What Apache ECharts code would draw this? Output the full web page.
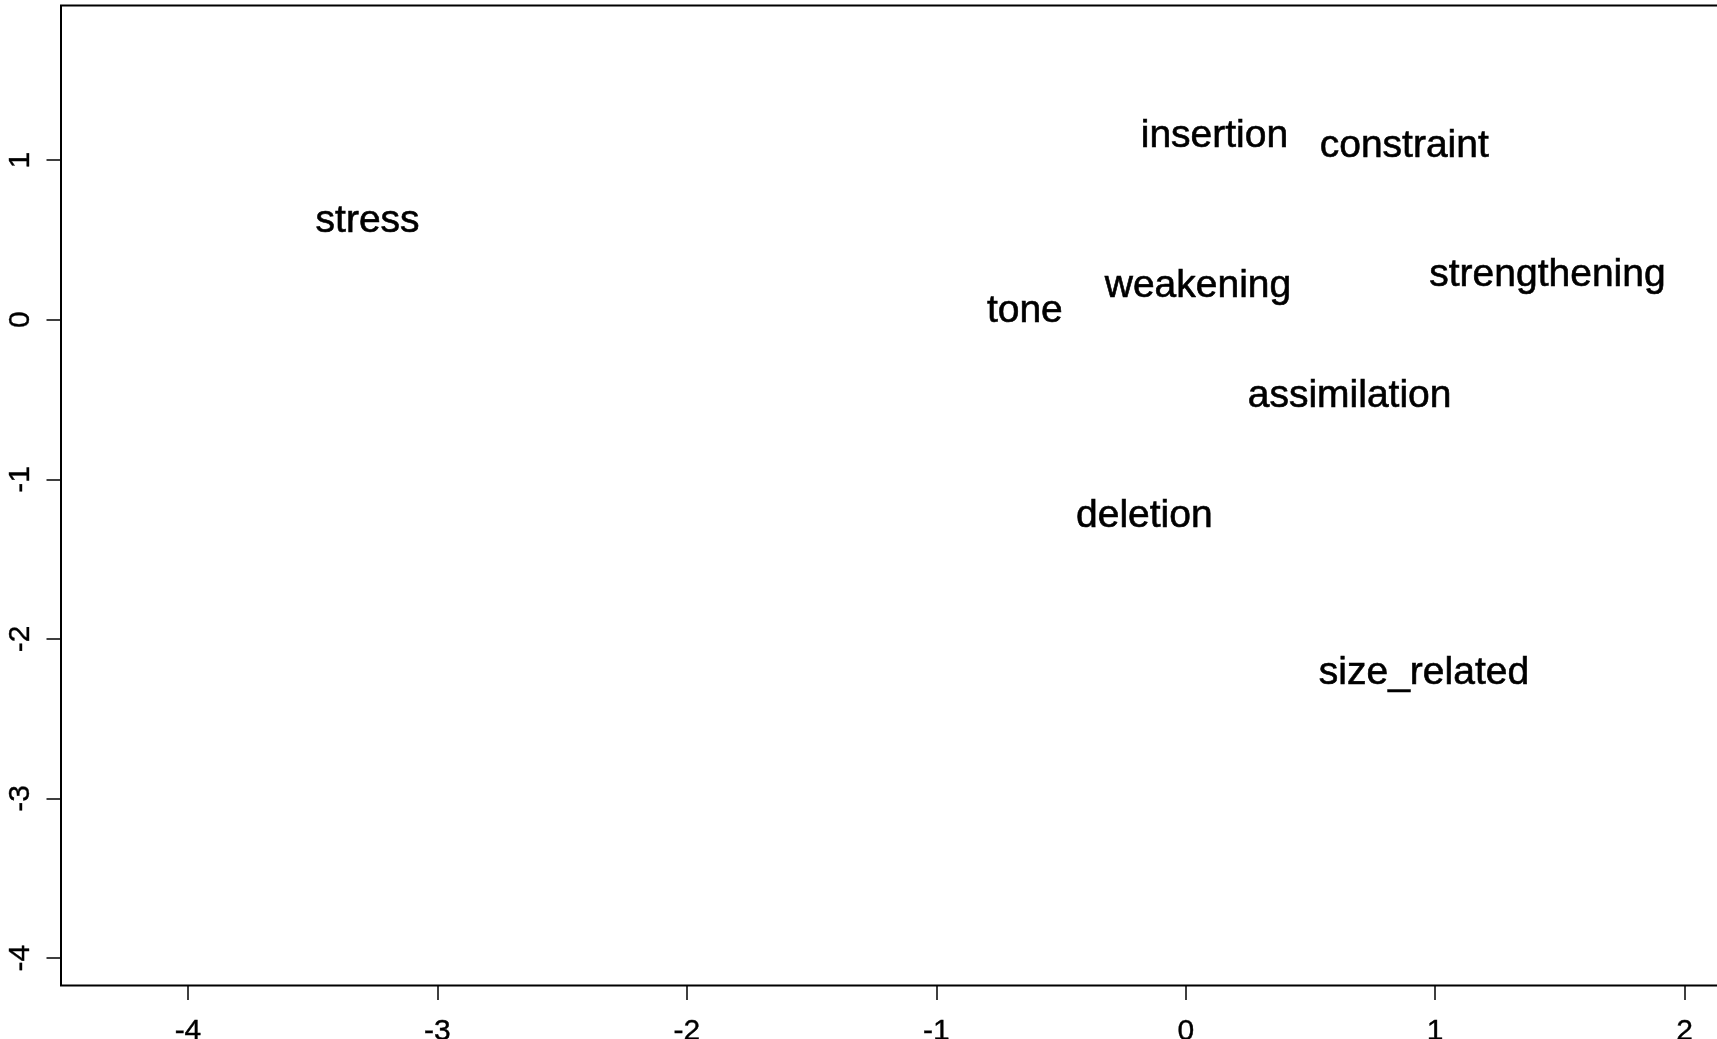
<!DOCTYPE html>
<html>
<head>
<meta charset="utf-8">
<title>Process types – two-dimensional scaling</title>
<script src="https://cdn.jsdelivr.net/npm/echarts@6/dist/echarts.min.js"></script>
<style>
  html, body { margin: 0; padding: 0; background: #ffffff; overflow: hidden; }
  #chart { width: 1780px; height: 1039px; }
</style>
</head>
<body>
<div id="chart"></div>
<script>
// Category labels placed at their coordinates on the two scaled dimensions
const terms = ['stress', 'insertion', 'constraint', 'strengthening', 'weakening',
               'tone', 'assimilation', 'deletion', 'size_related'];
const dim1 = [-3.28, 0.115, 0.876, 1.45, 0.049, -0.645, 0.657, -0.166, 0.955];
const dim2 = [0.615, 1.148, 1.089, 0.277, 0.212, 0.055, -0.482, -1.233, -2.215];

// Tick positions on each axis
const xTicks = [-4, -3, -2, -1, 0, 1, 2];
const yTicks = [-4, -3, -2, -1, 0, 1];

const points = terms.map((t, i) => ({ name: t, value: [dim1[i], dim2[i]] }));

const font = '"Liberation Sans", Arial, Helvetica, sans-serif';

const chart = echarts.init(document.getElementById('chart'), null, { renderer: 'canvas' });

chart.setOption({
  animation: false,
  backgroundColor: '#ffffff',
  grid: {
    left: 61,
    top: 5.5,
    width: 1686,
    height: 980,
    outerBoundsMode: 'none',
    containLabel: false,
    show: true,
    borderColor: '#000000',
    borderWidth: 2,
    backgroundColor: 'transparent'
  },
  xAxis: {
    type: 'value',
    min: -4.509,
    max: 2.25,
    splitLine: { show: false },
    axisLine: { show: false, onZero: false },
    axisTick: {
      show: true,
      customValues: xTicks,
      length: 14.5,
      inside: false,
      lineStyle: { color: '#000000', width: 1.5 }
    },
    axisLabel: {
      customValues: xTicks,
      margin: 31,
      fontFamily: font,
      fontSize: 30,
      color: '#000000',
      textBorderColor: '#000000',
      textBorderWidth: 0.4,
      lineHeight: 30
    }
  },
  yAxis: {
    type: 'value',
    min: -4.172,
    max: 1.969,
    splitLine: { show: false },
    axisLine: { show: false, onZero: false },
    axisTick: {
      show: true,
      customValues: yTicks,
      length: 14.5,
      inside: false,
      lineStyle: { color: '#000000', width: 1.5 }
    },
    axisLabel: {
      customValues: yTicks,
      rotate: 90,
      margin: 25,
      fontFamily: font,
      fontSize: 30,
      color: '#000000',
      textBorderColor: '#000000',
      textBorderWidth: 0.4,
      lineHeight: 30
    }
  },
  series: [{
    type: 'scatter',
    data: points,
    symbol: 'circle',
    symbolSize: 0,
    itemStyle: { color: '#000000', opacity: 1 },
    label: {
      show: true,
      position: 'inside',
      formatter: p => p.name,
      fontFamily: font,
      fontSize: 39,
      color: '#000000',
      opacity: 1,
      textBorderColor: '#000000',
      textBorderWidth: 0.6,
      align: 'center',
      verticalAlign: 'middle'
    },
    emphasis: { disabled: true }
  }]
});
</script>
</body>
</html>
